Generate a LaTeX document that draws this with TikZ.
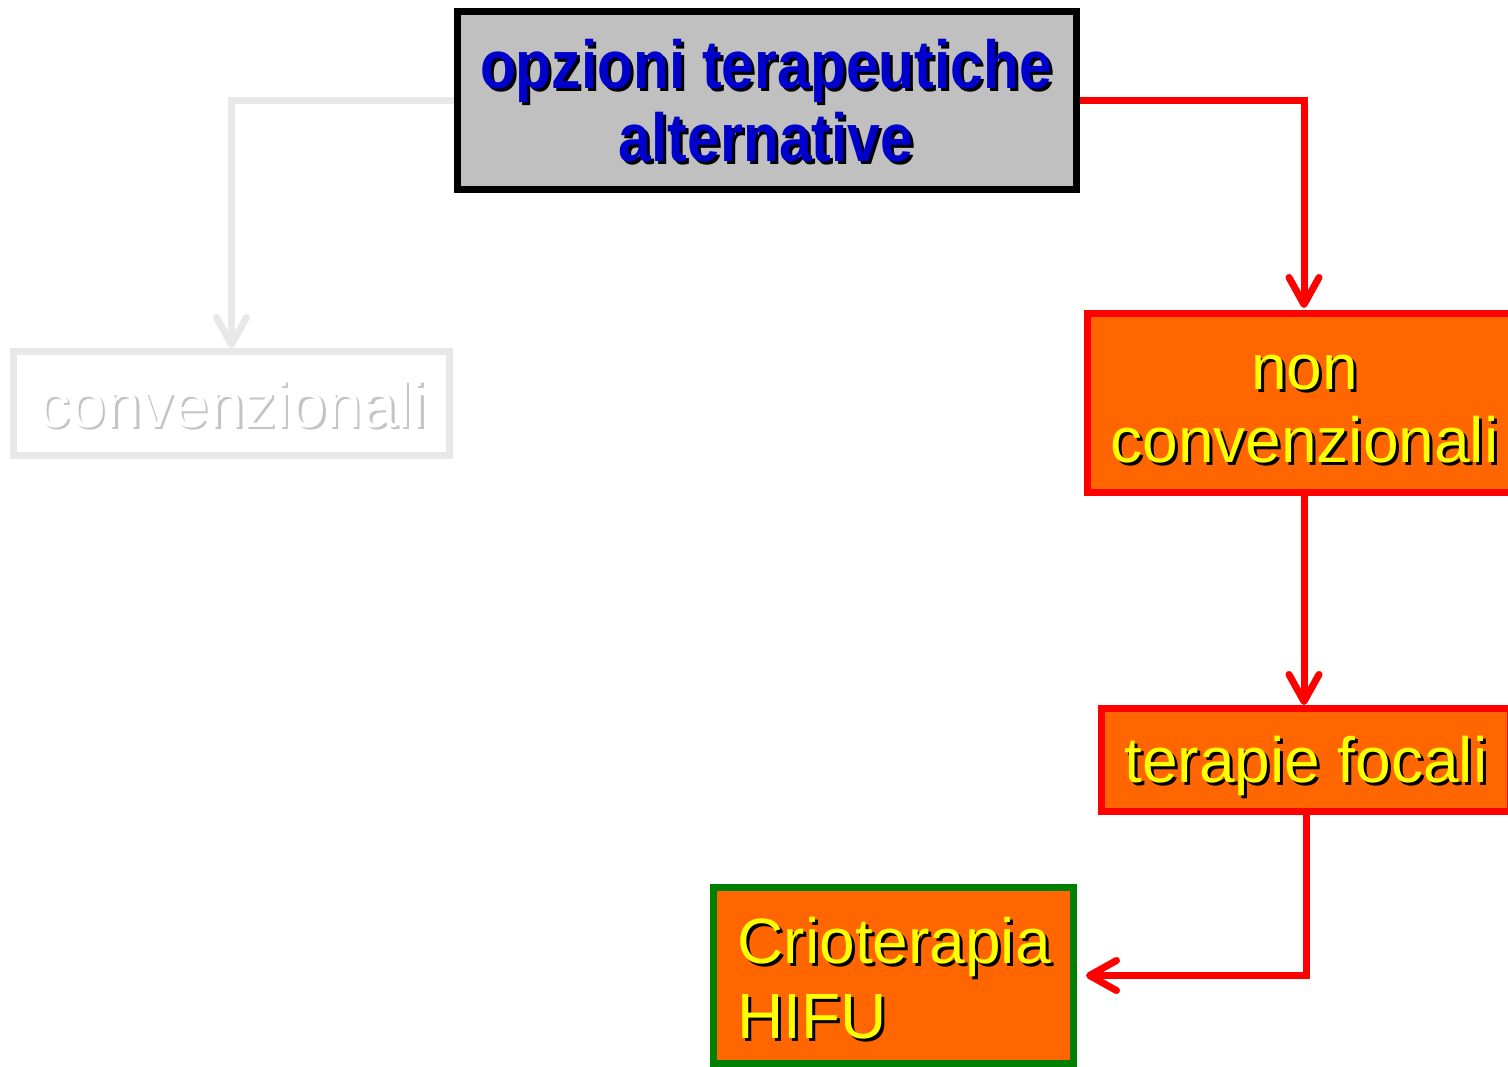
\documentclass[tikz,border=0pt]{standalone}
\usepackage{fontspec}
\setmainfont{Liberation Sans}
\newfontfamily\condfont{Liberation Sans}[FakeStretch=0.865]
\usetikzlibrary{arrows.meta}
\definecolor{boxgray}{HTML}{C0C0C0}
\definecolor{topblue}{HTML}{0000CC}
\definecolor{palegray}{HTML}{E8E8E8}
\definecolor{shadegray}{HTML}{C4C4C4}
\definecolor{nred}{HTML}{FF0000}
\definecolor{norange}{HTML}{FF6600}
\definecolor{nyellow}{HTML}{FFFF00}
\definecolor{ngreen}{HTML}{008000}
\newcommand{\shtxt}[3]{\leavevmode\rlap{\hspace{#1}\raisebox{-#1}{\textcolor{#2}{#3}}}#3}
\tikzset{
  box/.style={rectangle, line width=7pt, inner sep=0pt},
  lbl/.style={inner sep=0pt, anchor=base, font=\fontsize{64}{77}\selectfont},
  toplbl/.style={lbl, text=topblue, font=\condfont\bfseries\fontsize{68}{75}\selectfont},
  ylbl/.style={lbl, text=nyellow},
  link/.style={line width=7pt, -{Straight Barb[length=27pt,width=30pt,round]}},
}
\begin{document}
\begin{tikzpicture}[x=1pt,y=-1pt]
\useasboundingbox (0,0) rectangle (1508,1067);
% boxes
\node[box, draw=black, fill=boxgray, minimum width=619pt, minimum height=178pt] (top) at (767,100.5) {};
\node[box, draw=palegray, fill=white, minimum width=436pt, minimum height=104pt] (conv) at (231.5,403.5) {};
\node[box, draw=nred, fill=norange, minimum width=433pt, minimum height=179pt] (nonconv) at (1304,403) {};
\node[box, draw=nred, fill=norange, minimum width=409pt, minimum height=103pt] (focal) at (1306,760) {};
\node[box, draw=ngreen, fill=norange, minimum width=360pt, minimum height=176pt] (crio) at (893.5,975.5) {};
% texts
\node[toplbl] (topA) at (766,88.5) {\shtxt{3pt}{black}{opzioni terapeutiche}};
\node[toplbl] (topB) at (766,162) {\shtxt{3pt}{black}{alternative}};
\node[lbl, text=white] (convA) at (232,427) {\shtxt{2.5pt}{shadegray}{convenzionali}};
\node[ylbl] (nonA) at (1304.5,389) {\shtxt{3pt}{black}{non}};
\node[ylbl] (nonB) at (1304.5,462) {\shtxt{3pt}{black}{convenzionali}};
\node[ylbl] (focA) at (1306,782) {\shtxt{3pt}{black}{terapie focali}};
\node[ylbl, anchor=base west] (crioA) at (737.5,963) {\shtxt{3pt}{black}{Crioterapia}};
\node[ylbl, anchor=base west] (crioB) at (737.5,1038) {\shtxt{3pt}{black}{HIFU}};
% connectors
\draw[link, draw=palegray] (top.west) -| (conv.north);
\draw[link, draw=nred, shorten >=2pt] (top.east) -| (nonconv.north);
\draw[link, draw=nred] (nonconv.south) -- (nonconv.south |- focal.north);
\draw[link, draw=nred, shorten >=9pt] (focal.south) |- (crio.east);
\end{tikzpicture}
\end{document}
